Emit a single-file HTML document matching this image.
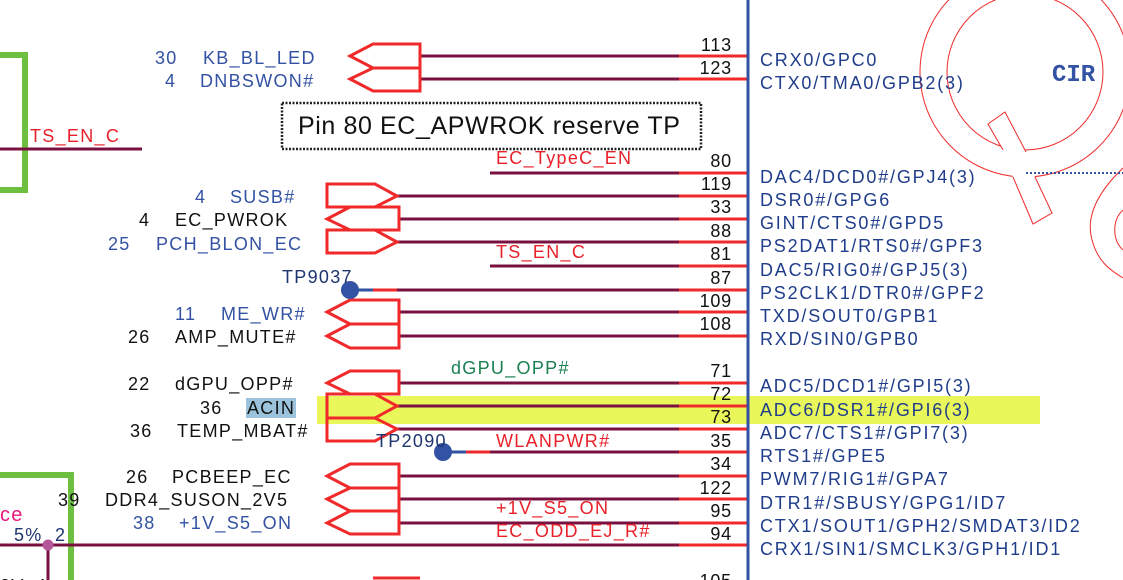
<!DOCTYPE html>
<html><head><meta charset="utf-8"><style>
html,body{margin:0;padding:0;background:#fff;width:1123px;height:580px;overflow:hidden}
svg{display:block}
text{font-family:"Liberation Sans",sans-serif;font-size:18px;letter-spacing:1.3px}
.b{fill:#3352a3}.k{fill:#111}.r{fill:#e8202a}.n{fill:#1f3570}
.pn{fill:#111;text-anchor:end;letter-spacing:0.8px}
.pl{fill:#1f3d8a;font-size:18px;letter-spacing:1.8px}
</style></head><body>
<svg width="1123" height="580" viewBox="0 0 1123 580" xmlns="http://www.w3.org/2000/svg">
<!-- Q logo -->
<g fill="none" stroke="#f02a2a" stroke-width="1">
<circle cx="1025" cy="72" r="105"/>
<circle cx="1025" cy="72" r="78"/>
</g>
<polygon points="988,124 1005,112 1026,152 1035,177 1052,213 1033,224 1013,177 1003,150" fill="#fff"/>
<g stroke="#f02a2a" stroke-width="1" fill="none">
<polyline points="1003,150 988,124 1005,112 1026,152"/>
<polyline points="1013,177 1033,224 1052,213 1035,177"/>
<path d="M1123,168 C1100,190 1085,215 1092,240 C1098,262 1110,270 1123,278"/>
<path d="M1123,210 C1112,220 1112,240 1123,250"/>
</g>
<line x1="1026" y1="173" x2="1123" y2="173" stroke="#3352a3" stroke-width="2" stroke-dasharray="2,2"/>
<text x="1052" y="81" style="font-family:'Liberation Mono',monospace;font-weight:bold;font-size:24px;letter-spacing:0" fill="#3352a3">CIR</text>

<!-- highlight -->
<rect x="317" y="396" width="723" height="28" fill="#eaf75a"/>

<!-- green boxes -->
<polyline points="0,55 25,55 25,190 0,190" fill="none" stroke="#6cbf3f" stroke-width="6"/>
<polyline points="0,475 71,475 71,580" fill="none" stroke="#6cbf3f" stroke-width="6"/>

<!-- left wires -->
<line x1="0" y1="149" x2="142" y2="149" stroke="#7a1040" stroke-width="3"/>
<text x="30" y="142" class="r">TS_EN_C</text>
<line x1="0" y1="545" x2="679" y2="545" stroke="#7a1040" stroke-width="3"/>
<line x1="48" y1="545" x2="48" y2="580" stroke="#7a1040" stroke-width="3"/>
<circle cx="48" cy="545" r="5.5" fill="#b5569a"/>
<text x="0" y="521" style="font-size:20px" fill="#e8187a">ce</text>
<text x="14" y="541" class="n">5%</text>
<text x="55" y="541" class="n">2</text>
<text x="0" y="592" class="k">0V_4</text>

<!-- maroon wires -->
<g stroke="#7a1040" stroke-width="3">
<line x1="420" y1="56" x2="679" y2="56"/>
<line x1="420" y1="79" x2="679" y2="79"/>
<line x1="490" y1="173" x2="679" y2="173"/>
<line x1="397" y1="196" x2="679" y2="196"/>
<line x1="399" y1="219" x2="679" y2="219"/>
<line x1="397" y1="242" x2="679" y2="242"/>
<line x1="490" y1="266" x2="679" y2="266"/>
<line x1="397" y1="290" x2="679" y2="290"/>
<line x1="399" y1="312" x2="679" y2="312"/>
<line x1="399" y1="336" x2="679" y2="336"/>
<line x1="399" y1="383" x2="679" y2="383"/>
<line x1="397" y1="406" x2="679" y2="406"/>
<line x1="397" y1="429" x2="679" y2="429"/>
<line x1="490" y1="452" x2="679" y2="452"/>
<line x1="399" y1="476" x2="679" y2="476"/>
<line x1="399" y1="499" x2="679" y2="499"/>
<line x1="399" y1="523" x2="679" y2="523"/>
</g>
<!-- red pin stubs -->
<g stroke="#f02a2a" stroke-width="3">
<line x1="679" y1="56" x2="747" y2="56"/><line x1="679" y1="79" x2="747" y2="79"/>
<line x1="679" y1="173" x2="747" y2="173"/><line x1="679" y1="196" x2="747" y2="196"/>
<line x1="679" y1="219" x2="747" y2="219"/><line x1="679" y1="242" x2="747" y2="242"/>
<line x1="679" y1="266" x2="747" y2="266"/><line x1="679" y1="290" x2="747" y2="290"/>
<line x1="679" y1="312" x2="747" y2="312"/><line x1="679" y1="336" x2="747" y2="336"/>
<line x1="679" y1="383" x2="747" y2="383"/><line x1="679" y1="406" x2="747" y2="406"/>
<line x1="679" y1="429" x2="747" y2="429"/><line x1="679" y1="452" x2="747" y2="452"/>
<line x1="679" y1="476" x2="747" y2="476"/><line x1="679" y1="499" x2="747" y2="499"/>
<line x1="679" y1="523" x2="747" y2="523"/><line x1="679" y1="545" x2="747" y2="545"/>
<line x1="373" y1="290" x2="397" y2="290"/><line x1="466" y1="452" x2="490" y2="452"/>
<line x1="373" y1="578" x2="420" y2="578"/>
</g>
<!-- blue vertical -->
<line x1="748" y1="0" x2="748" y2="580" stroke="#3352a3" stroke-width="3"/>

<!-- connectors -->
<g fill="none" stroke="#f02a2a" stroke-width="3" stroke-linejoin="miter">
<polygon points="350,56 373,44 420,44 420,68 373,68"/>
<polygon points="350,79 373,68 420,68 420,91 373,91"/>
<polygon points="327,184 375,184 397,196 375,207 327,207"/>
<polygon points="327,219 350,207 399,207 399,230 350,230"/>
<polygon points="327,230 375,230 397,242 375,253 327,253"/>
<polygon points="327,312 350,300 399,300 399,324 350,324"/>
<polygon points="327,336 350,324 399,324 399,348 350,348"/>
<polygon points="327,383 350,371 399,371 399,394 350,394"/>
<polygon points="327,394 375,394 397,406 375,418 327,418"/>
<polygon points="327,418 375,418 397,429 375,441 327,441"/>
<polygon points="327,476 350,464 399,464 399,488 350,488"/>
<polygon points="327,499 350,488 399,488 399,511 350,511"/>
<polygon points="327,523 350,511 399,511 399,534 350,534"/>
</g>

<!-- test points -->
<line x1="350" y1="290" x2="373" y2="290" stroke="#3352a3" stroke-width="3"/>
<circle cx="350" cy="290" r="9" fill="#3352a3"/>
<line x1="443" y1="452" x2="466" y2="452" stroke="#3352a3" stroke-width="3"/>
<circle cx="443" cy="452" r="9" fill="#3352a3"/>
<text x="282" y="283" class="n">TP9037</text>
<text x="376" y="447" class="n">TP2090</text>

<!-- dotted box -->
<rect x="282" y="103" width="419" height="46" fill="none" stroke="#222" stroke-width="2.5" stroke-dasharray="2,1.5"/>
<text x="298" y="134" style="font-size:25px;letter-spacing:0.6px" class="k">Pin 80 EC_APWROK reserve TP</text>

<!-- left labels -->
<text x="155" y="64" class="b">30</text><text x="203" y="64" class="b">KB_BL_LED</text>
<text x="165" y="87" class="b">4</text><text x="200" y="87" class="b">DNBSWON#</text>
<text x="195" y="203" class="b">4</text><text x="230" y="203" class="b">SUSB#</text>
<text x="139" y="226" class="k">4</text><text x="175" y="226" class="k">EC_PWROK</text>
<text x="108" y="250" class="b">25</text><text x="156" y="250" class="b">PCH_BLON_EC</text>
<text x="175" y="320" class="b">11</text><text x="221" y="320" class="b">ME_WR#</text>
<text x="128" y="343" class="k">26</text><text x="175" y="343" class="k">AMP_MUTE#</text>
<text x="128" y="390" class="k">22</text><text x="175" y="390" class="k">dGPU_OPP#</text>
<rect x="246" y="398" width="50" height="20" fill="#9cc3dc"/>
<text x="200" y="414" class="k">36</text><text x="247" y="414" class="k">ACIN</text>
<text x="130" y="437" class="k">36</text><text x="177" y="437" class="k">TEMP_MBAT#</text>
<text x="126" y="483" class="k">26</text><text x="172" y="483" class="k">PCBEEP_EC</text>
<text x="58" y="506" class="k">39</text><text x="105" y="506" class="k">DDR4_SUSON_2V5</text>
<text x="133" y="529" class="b">38</text><text x="179" y="529" class="b">+1V_S5_ON</text>

<!-- net labels -->
<text x="496" y="164" class="r">EC_TypeC_EN</text>
<text x="496" y="258" class="r">TS_EN_C</text>
<text x="451" y="374" fill="#1a8050">dGPU_OPP#</text>
<text x="496" y="447" class="r">WLANPWR#</text>
<text x="496" y="514" class="r">+1V_S5_ON</text>
<text x="496" y="537" class="r">EC_ODD_EJ_R#</text>

<!-- pin numbers -->
<text x="732" y="51" class="pn">113</text><text x="732" y="74" class="pn">123</text>
<text x="732" y="167" class="pn">80</text><text x="732" y="190" class="pn">119</text>
<text x="732" y="213" class="pn">33</text><text x="732" y="237" class="pn">88</text>
<text x="732" y="260" class="pn">81</text><text x="732" y="284" class="pn">87</text>
<text x="732" y="307" class="pn">109</text><text x="732" y="330" class="pn">108</text>
<text x="732" y="377" class="pn">71</text><text x="732" y="400" class="pn">72</text>
<text x="732" y="423" class="pn">73</text><text x="732" y="447" class="pn">35</text>
<text x="732" y="470" class="pn">34</text><text x="732" y="494" class="pn">122</text>
<text x="732" y="517" class="pn">95</text><text x="732" y="540" class="pn">94</text>
<text x="732" y="587" class="pn">105</text>

<!-- pin labels -->
<text x="760" y="66" class="pl">CRX0/GPC0</text>
<text x="760" y="89" class="pl">CTX0/TMA0/GPB2(3)</text>
<text x="760" y="183" class="pl">DAC4/DCD0#/GPJ4(3)</text>
<text x="760" y="206" class="pl">DSR0#/GPG6</text>
<text x="760" y="229" class="pl">GINT/CTS0#/GPD5</text>
<text x="760" y="252" class="pl">PS2DAT1/RTS0#/GPF3</text>
<text x="760" y="276" class="pl">DAC5/RIG0#/GPJ5(3)</text>
<text x="760" y="299" class="pl">PS2CLK1/DTR0#/GPF2</text>
<text x="760" y="322" class="pl">TXD/SOUT0/GPB1</text>
<text x="760" y="345" class="pl">RXD/SIN0/GPB0</text>
<text x="760" y="392" class="pl">ADC5/DCD1#/GPI5(3)</text>
<text x="760" y="416" class="pl">ADC6/DSR1#/GPI6(3)</text>
<text x="760" y="439" class="pl">ADC7/CTS1#/GPI7(3)</text>
<text x="760" y="462" class="pl">RTS1#/GPE5</text>
<text x="760" y="485" class="pl">PWM7/RIG1#/GPA7</text>
<text x="760" y="509" class="pl">DTR1#/SBUSY/GPG1/ID7</text>
<text x="760" y="532" class="pl">CTX1/SOUT1/GPH2/SMDAT3/ID2</text>
<text x="760" y="555" class="pl">CRX1/SIN1/SMCLK3/GPH1/ID1</text>
</svg>
</body></html>
